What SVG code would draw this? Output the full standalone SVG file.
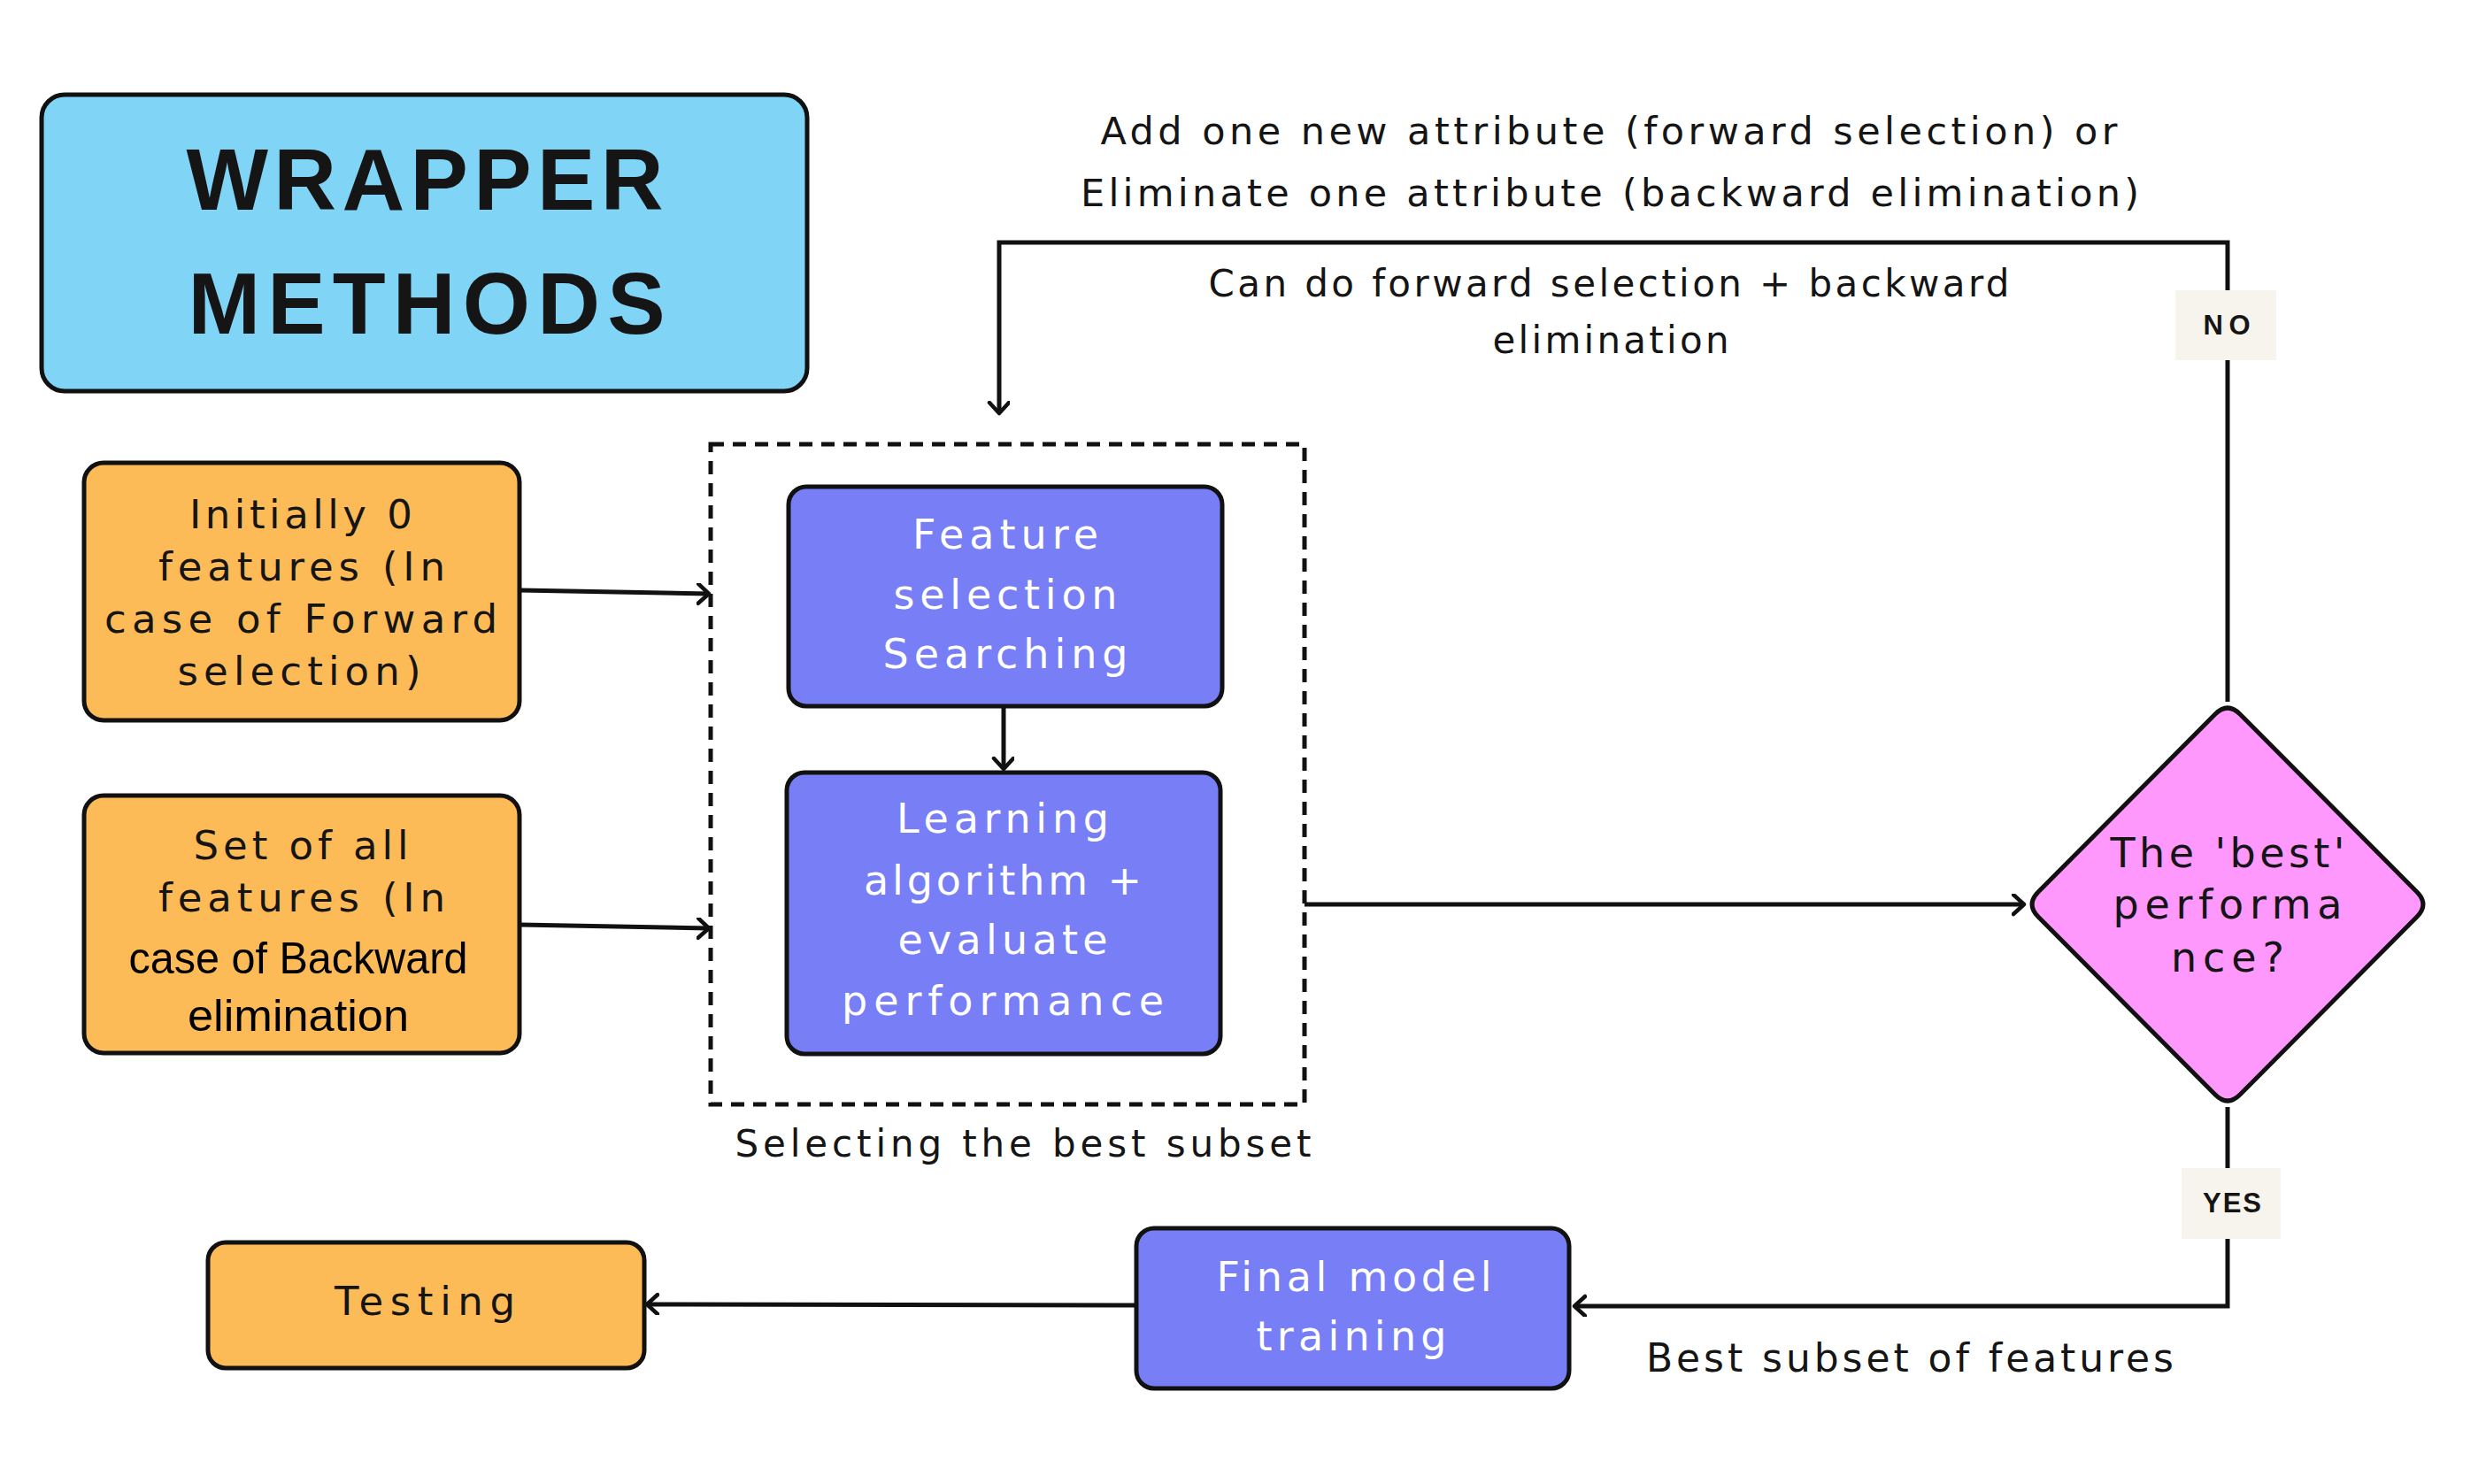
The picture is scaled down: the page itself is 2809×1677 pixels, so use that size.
<svg xmlns="http://www.w3.org/2000/svg" width="2809" height="1677" viewBox="0 0 2809 1677">
<style>
  .t { font-family: "DejaVu Sans", "Liberation Sans", sans-serif; fill: #151515; text-anchor: middle; }
  .cal { font-family: "Liberation Sans", Arial, sans-serif; fill: #000000; }
  .w { fill: #ffffff; }
  .b { font-family: "Liberation Sans", Arial, sans-serif; font-weight: bold; }
  .box { stroke: #111; stroke-width: 5; }
  .blue { fill: #80d5f6; }
  .orange { fill: #fdbb58; }
  .purple { fill: #787ef5; }
  .pink { fill: #fe98fc; }
  .lbl { fill: #f7f4ee; }
  .con { fill: none; stroke: #111; stroke-width: 5; }
</style>
<defs>
  <marker id="arr" markerUnits="userSpaceOnUse" markerWidth="24" markerHeight="28" refX="14" refY="12" orient="auto" viewBox="0 0 24 28">
    <path d="M2,1 L14,12 L2,23" fill="none" stroke="#111" stroke-width="4.5" stroke-linecap="round" stroke-linejoin="round"/>
  </marker>
</defs>
<rect width="2809" height="1677" fill="#ffffff"/>

<g id="connectors">
  <path class="con" d="M588,667 L801,671" marker-end="url(#arr)"/>
  <path class="con" d="M588,1045 L801,1049" marker-end="url(#arr)"/>
  <path class="con" d="M1134,799 L1134,869" marker-end="url(#arr)"/>
  <path class="con" d="M1474,1022 L2287,1022" marker-end="url(#arr)"/>
  <path class="con" d="M2517,793 L2517,274 L1129,274 L1129,467" marker-end="url(#arr)"/>
  <path class="con" d="M2517,1251 L2517,1476 L1779,1476" marker-end="url(#arr)"/>
  <path class="con" d="M1283,1475 L731,1474" marker-end="url(#arr)"/>
</g>

<g id="title">
  <rect class="box blue" x="47" y="107" width="865" height="335" rx="26"/>
  <text class="t b" x="480" y="237" font-size="98" textLength="539" lengthAdjust="spacing">WRAPPER</text>
  <text class="t b" x="482" y="377" font-size="98" textLength="539" lengthAdjust="spacing">METHODS</text>
</g>

<g id="forward-start">
  <rect class="box orange" x="95" y="523" width="492" height="291" rx="22"/>
  <text class="t" font-size="45" x="340" y="597" textLength="252" lengthAdjust="spacing">Initially 0</text>
  <text class="t" font-size="45" x="341" y="656" textLength="324" lengthAdjust="spacing">features (In</text>
  <text class="t" font-size="45" x="340" y="715" textLength="444" lengthAdjust="spacing">case of Forward</text>
  <text class="t" font-size="45" x="338" y="774" textLength="275" lengthAdjust="spacing">selection)</text>
</g>

<g id="backward-start">
  <rect class="box orange" x="95" y="899" width="492" height="291" rx="22"/>
  <text class="t" font-size="45" x="340" y="971" textLength="243" lengthAdjust="spacing">Set of all</text>
  <text class="t" font-size="45" x="341" y="1030" textLength="324" lengthAdjust="spacing">features (In</text>
  <text class="t cal" font-size="50" x="337" y="1100" textLength="383" lengthAdjust="spacingAndGlyphs">case of Backward</text>
  <text class="t cal" font-size="50" x="337" y="1165" textLength="250" lengthAdjust="spacingAndGlyphs">elimination</text>
</g>

<g id="subset-group">
  <rect x="803" y="502" width="671" height="746" fill="none" stroke="#111" stroke-width="5" stroke-dasharray="15 10"/>
  <text class="t" font-size="42" x="1156" y="1307" textLength="651" lengthAdjust="spacing">Selecting the best subset</text>
</g>

<g id="feature-search">
  <rect class="box purple" x="891" y="550" width="490" height="248" rx="20"/>
  <text class="t w" font-size="46" x="1136" y="620" textLength="210" lengthAdjust="spacing">Feature</text>
  <text class="t w" font-size="46" x="1136" y="688" textLength="253" lengthAdjust="spacing">selection</text>
  <text class="t w" font-size="46" x="1136" y="755" textLength="277" lengthAdjust="spacing">Searching</text>
</g>

<g id="learning">
  <rect class="box purple" x="889" y="873" width="490" height="318" rx="20"/>
  <text class="t w" font-size="46" x="1133" y="941" textLength="240" lengthAdjust="spacing">Learning</text>
  <text class="t w" font-size="46" x="1133" y="1011" textLength="314" lengthAdjust="spacing">algorithm +</text>
  <text class="t w" font-size="46" x="1133" y="1078" textLength="237" lengthAdjust="spacing">evaluate</text>
  <text class="t w" font-size="46" x="1133" y="1147" textLength="364" lengthAdjust="spacing">performance</text>
</g>

<g id="decision">
  <path class="box pink" d="M2503,807 Q2517,793 2531,807 L2731,1008 Q2745,1022 2731,1036 L2531,1237 Q2517,1251 2503,1237 L2303,1036 Q2289,1022 2303,1008 Z"/>
  <text class="t" font-size="46" x="2517" y="980" textLength="265" lengthAdjust="spacing">The 'best'</text>
  <text class="t" font-size="46" x="2517" y="1038" textLength="259" lengthAdjust="spacing">performa</text>
  <text class="t" font-size="46" x="2517" y="1098" textLength="128" lengthAdjust="spacing">nce?</text>
</g>

<g id="final-training">
  <rect class="box purple" x="1284" y="1388" width="489" height="181" rx="20"/>
  <text class="t w" font-size="46" x="1530" y="1459" textLength="311" lengthAdjust="spacing">Final model</text>
  <text class="t w" font-size="46" x="1527" y="1526" textLength="215" lengthAdjust="spacing">training</text>
</g>

<g id="testing">
  <rect class="box orange" x="235" y="1404" width="493" height="142" rx="20"/>
  <text class="t" font-size="45" x="480" y="1486" textLength="204" lengthAdjust="spacing">Testing</text>
</g>

<g id="labels">
  <text class="t" font-size="43" x="1818" y="163" textLength="1149" lengthAdjust="spacing">Add one new attribute (forward selection) or</text>
  <text class="t" font-size="43" x="1819" y="233" textLength="1196" lengthAdjust="spacing">Eliminate one attribute (backward elimination)</text>
  <text class="t" font-size="42" x="1818" y="335" textLength="905" lengthAdjust="spacing">Can do forward selection + backward</text>
  <text class="t" font-size="42" x="1820" y="399" textLength="267" lengthAdjust="spacing">elimination</text>
  <text class="t" font-size="44" x="2158" y="1550" textLength="596" lengthAdjust="spacing">Best subset of features</text>
</g>

<g id="no-label">
  <rect class="lbl" x="2458" y="328" width="114" height="79"/>
  <text class="t b" font-size="31" x="2516" y="378" textLength="53" lengthAdjust="spacing">NO</text>
</g>

<g id="yes-label">
  <rect class="lbl" x="2465" y="1320" width="112" height="80"/>
  <text class="t b" font-size="31" x="2522" y="1370" textLength="66" lengthAdjust="spacing">YES</text>
</g>
</svg>
